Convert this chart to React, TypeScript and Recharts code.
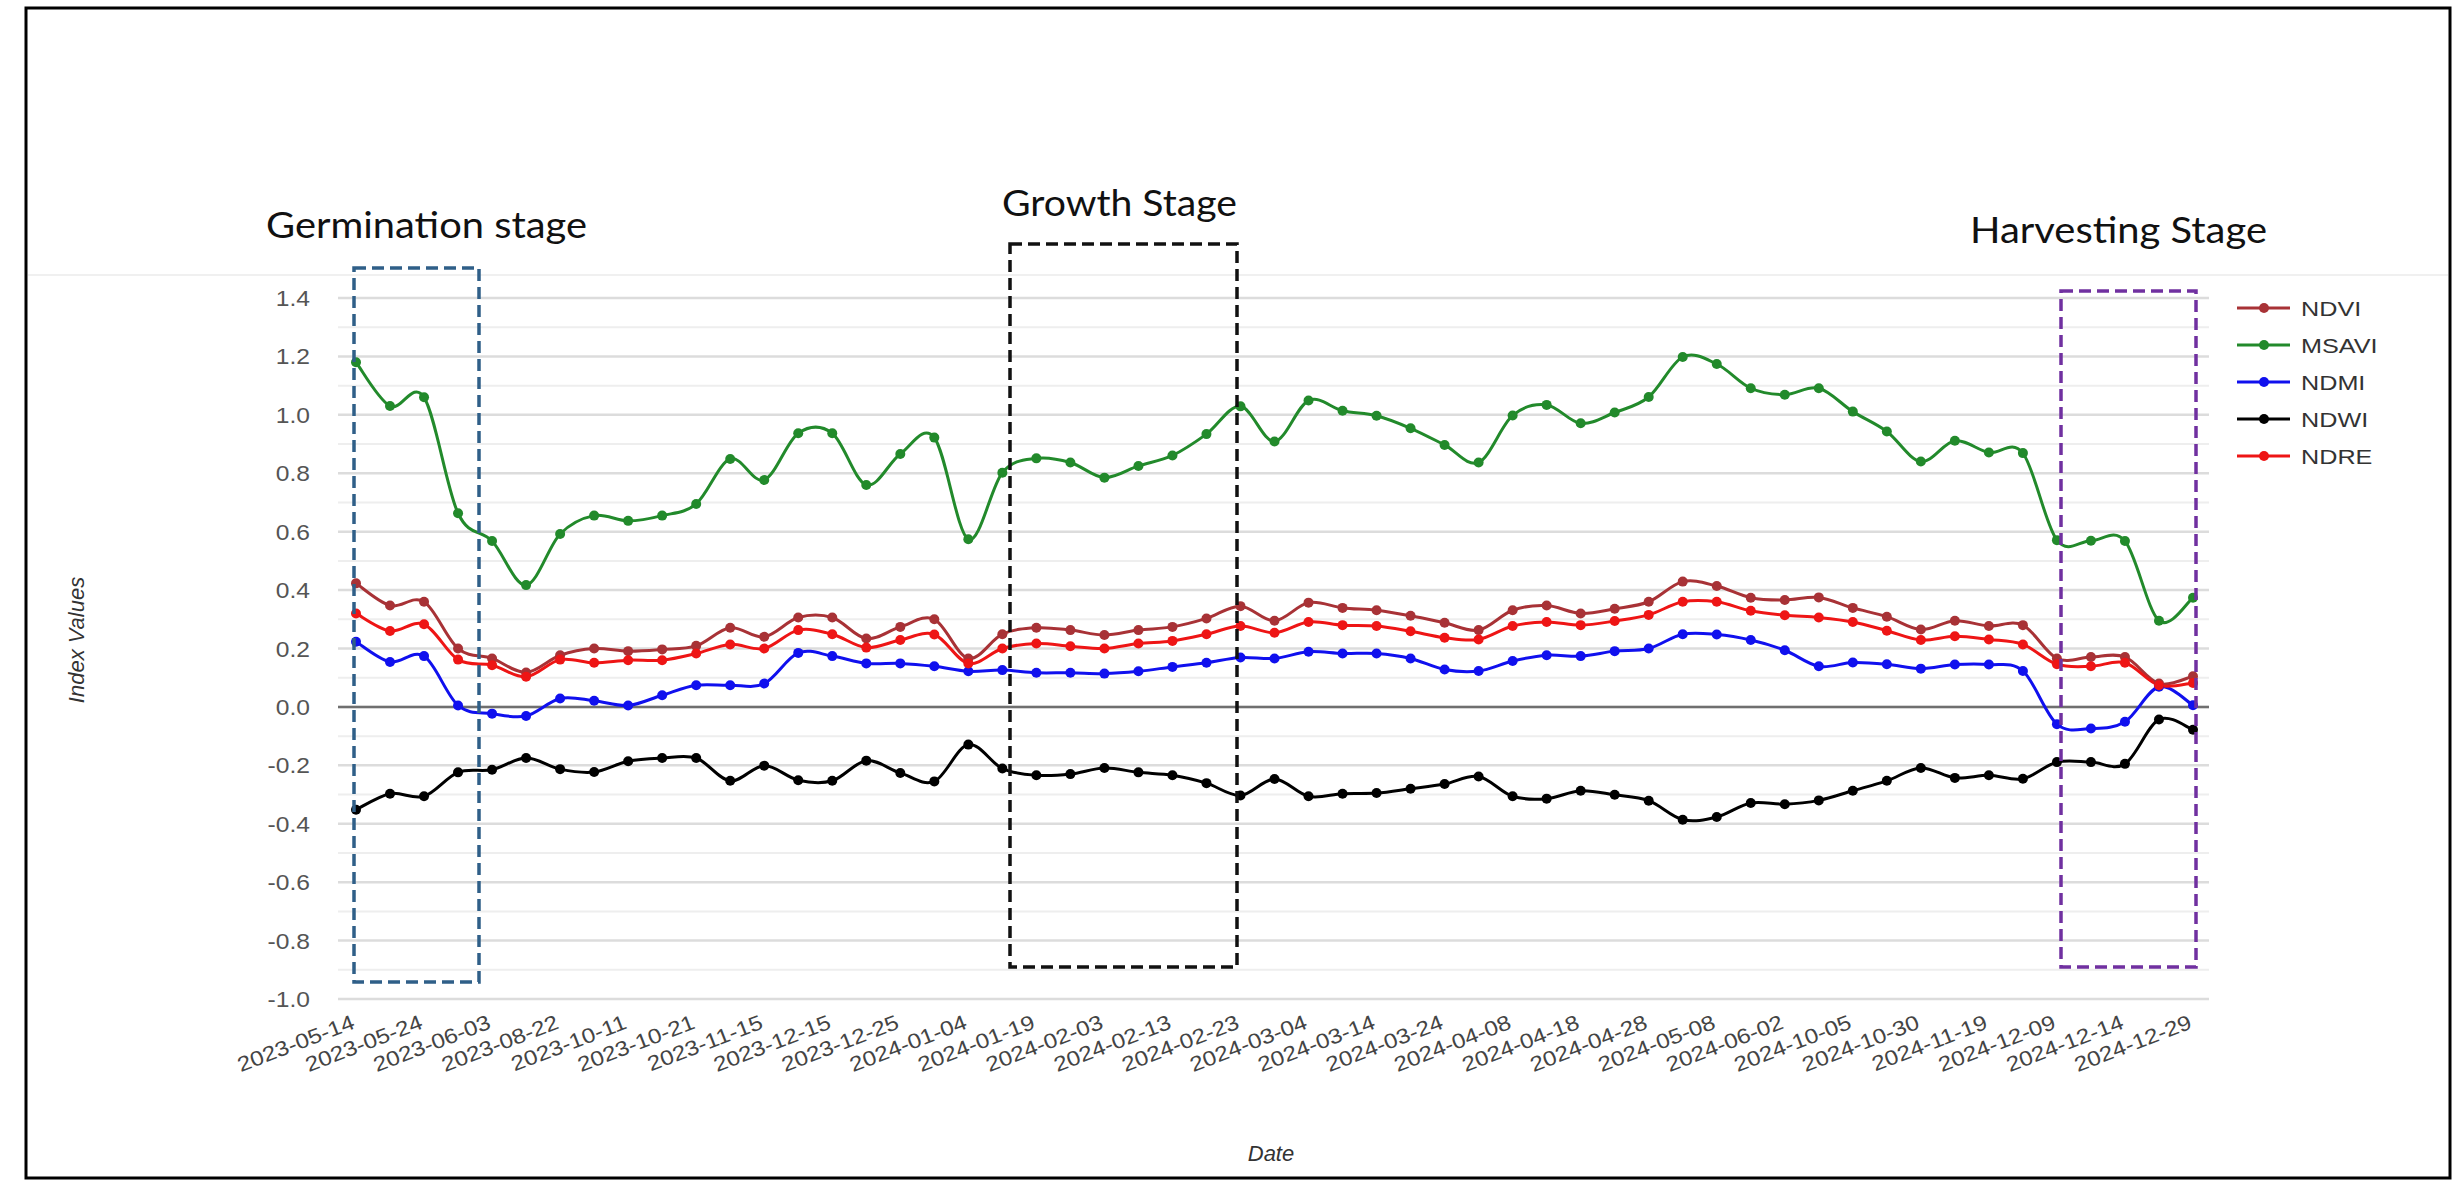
import React from 'react';
import { LineChart, Line, XAxis, YAxis, CartesianGrid, ReferenceLine } from 'recharts';

// ---- data ----
const dates = [
  '2023-05-14', '2023-05-19', '2023-05-24', '2023-05-29', '2023-06-03', '2023-07-13', '2023-08-22', '2023-09-21',
  '2023-10-11', '2023-10-16', '2023-10-21', '2023-11-05', '2023-11-15', '2023-11-25', '2023-12-15', '2023-12-20',
  '2023-12-25', '2023-12-30', '2024-01-04', '2024-01-09', '2024-01-19', '2024-01-29', '2024-02-03', '2024-02-08',
  '2024-02-13', '2024-02-18', '2024-02-23', '2024-02-28', '2024-03-04', '2024-03-09', '2024-03-14', '2024-03-19',
  '2024-03-24', '2024-04-03', '2024-04-08', '2024-04-13', '2024-04-18', '2024-04-23', '2024-04-28', '2024-05-03',
  '2024-05-08', '2024-05-13', '2024-06-02', '2024-09-10', '2024-10-05', '2024-10-15', '2024-10-30', '2024-11-04',
  '2024-11-19', '2024-11-24', '2024-12-09', '2024-12-12', '2024-12-14', '2024-12-19', '2024-12-29',
];

const ndvi = [
  0.423, 0.347, 0.36, 0.2, 0.166, 0.118, 0.177, 0.2, 0.191, 0.197, 0.209, 0.271, 0.24, 0.306, 0.306, 0.234, 0.274, 0.3, 0.166,
  0.249, 0.271, 0.263, 0.246, 0.263, 0.274, 0.303, 0.345, 0.295, 0.357, 0.339, 0.331, 0.312, 0.288, 0.263, 0.331, 0.347, 0.32, 0.336, 0.36,
  0.429, 0.414, 0.374, 0.366, 0.375, 0.339, 0.309, 0.265, 0.295, 0.277, 0.28, 0.166, 0.171, 0.171, 0.08, 0.105,
];

const msavi = [
  1.18, 1.03, 1.06, 0.663, 0.568, 0.417, 0.592, 0.655, 0.637, 0.655, 0.695, 0.849, 0.777, 0.937, 0.937, 0.76, 0.866, 0.922, 0.574,
  0.802, 0.851, 0.837, 0.785, 0.825, 0.861, 0.934, 1.029, 0.909, 1.049, 1.014, 0.997, 0.954, 0.897, 0.837, 0.998, 1.034, 0.971, 1.008, 1.061,
  1.198, 1.174, 1.091, 1.069, 1.091, 1.011, 0.943, 0.84, 0.911, 0.871, 0.869, 0.571, 0.569, 0.568, 0.295, 0.374,
];

const ndmi = [
  0.223, 0.154, 0.174, 0.005, -0.023, -0.031, 0.029, 0.021, 0.005, 0.04, 0.074, 0.074, 0.08, 0.185, 0.174, 0.149, 0.149, 0.139, 0.122,
  0.126, 0.117, 0.117, 0.114, 0.122, 0.137, 0.151, 0.169, 0.166, 0.189, 0.183, 0.183, 0.166, 0.128, 0.123, 0.157, 0.177, 0.174, 0.191, 0.2,
  0.249, 0.248, 0.229, 0.194, 0.139, 0.152, 0.146, 0.131, 0.145, 0.145, 0.123, -0.059, -0.074, -0.051, 0.069, 0.006,
];

const ndwi = [
  -0.352, -0.297, -0.306, -0.224, -0.215, -0.175, -0.213, -0.223, -0.186, -0.175, -0.175, -0.253, -0.201, -0.251, -0.253, -0.184, -0.226, -0.255, -0.129,
  -0.211, -0.234, -0.23, -0.209, -0.224, -0.234, -0.261, -0.303, -0.247, -0.306, -0.297, -0.295, -0.28, -0.264, -0.238, -0.306, -0.314, -0.287, -0.301, -0.321,
  -0.386, -0.377, -0.329, -0.333, -0.32, -0.287, -0.253, -0.209, -0.243, -0.234, -0.246, -0.189, -0.189, -0.195, -0.043, -0.078,
];

const ndre = [
  0.32, 0.26, 0.283, 0.162, 0.143, 0.103, 0.162, 0.151, 0.16, 0.16, 0.183, 0.214, 0.2, 0.263, 0.249, 0.203, 0.229, 0.248, 0.149,
  0.2, 0.217, 0.208, 0.2, 0.217, 0.226, 0.249, 0.277, 0.254, 0.291, 0.28, 0.277, 0.259, 0.237, 0.231, 0.277, 0.291, 0.28, 0.294, 0.315,
  0.36, 0.36, 0.329, 0.314, 0.306, 0.291, 0.261, 0.229, 0.242, 0.231, 0.214, 0.146, 0.139, 0.151, 0.074, 0.082,
];

const yTicks = [-1.0, -0.8, -0.6, -0.4, -0.2, 0.0, 0.2, 0.4, 0.6, 0.8, 1.0, 1.2, 1.4];
const yMinorTicks = [-0.9, -0.7, -0.5, -0.3, -0.1, 0.1, 0.3, 0.5, 0.7, 0.9, 1.1, 1.3];

const seriesNames = ['NDVI', 'MSAVI', 'NDMI', 'NDWI', 'NDRE'];
const seriesValues = [ndvi, msavi, ndmi, ndwi, ndre];
const seriesColors = ['#a83236', '#228a2b', '#1010ee', '#000000', '#ee1515'];

const stageLabels = ['Germination stage', 'Growth Stage', 'Harvesting Stage'];
const stageColors = ['#2f5f88', '#111111', '#7030a0'];

// ---- layout (annotation placement, px) ----
const W = 2456;
const H = 1185;
const stageBoxes = [
  { x: 354, y: 268, w: 125, h: 714 },
  { x: 1010, y: 244, w: 227, h: 723 },
  { x: 2061, y: 291, w: 135, h: 676 },
];
const stageText = [
  { x: 266, y: 238, len: 321 },
  { x: 1002, y: 216, len: 235 },
  { x: 1970, y: 243, len: 297 },
];

const data = dates.map((d, i) => {
  const row: any = { date: d };
  seriesNames.forEach((n, k) => {
    row[n] = seriesValues[k][i];
  });
  return row;
});

// Catmull-Rom style cardinal curve (tension 0)
const cardinalCurve = (context: any) => {
  let pts: number[][] = [];
  return {
    areaStart() {},
    areaEnd() {},
    lineStart() {
      pts = [];
    },
    point(x: number, y: number) {
      pts.push([+x, +y]);
    },
    lineEnd() {
      const n = pts.length;
      if (!n) return;
      context.moveTo(pts[0][0], pts[0][1]);
      for (let i = 0; i < n - 1; i++) {
        const p0 = pts[Math.max(0, i - 1)];
        const p1 = pts[i];
        const p2 = pts[i + 1];
        const p3 = pts[Math.min(n - 1, i + 2)];
        context.bezierCurveTo(
          p1[0] + (p2[0] - p0[0]) / 6,
          p1[1] + (p2[1] - p0[1]) / 6,
          p2[0] - (p3[0] - p1[0]) / 6,
          p2[1] - (p3[1] - p1[1]) / 6,
          p2[0],
          p2[1]
        );
      }
    },
  };
};

const ARIAL = '"Liberation Sans", Arial, sans-serif';

const XTick = (props: any) => {
  const { x, y, payload } = props;
  return (
    <g transform={`translate(${x},${y + 21})`}>
      <text
        transform="rotate(-21) scale(1.15,1)"
        textAnchor="end"
        fontSize={21}
        fill="#444"
        fontFamily={ARIAL}
      >
        {payload.value}
      </text>
    </g>
  );
};

const YTick = (props: any) => {
  const { x, y, payload } = props;
  return (
    <g transform={`translate(${x},${y})`}>
      <text transform="scale(1.12,1)" textAnchor="end" dy={8} fontSize={22} fill="#555" fontFamily={ARIAL}>
        {Number(payload.value).toFixed(1)}
      </text>
    </g>
  );
};

export default function App() {
  return (
    <div style={{ position: 'absolute', left: 0, top: 0, width: W, height: H, background: '#fff' }}>
      <LineChart
        width={W}
        height={H}
        data={data}
        margin={{ top: 298, right: 247, bottom: 126, left: 278 }}
      >
        <CartesianGrid vertical={false} stroke="#dcdcdc" strokeWidth={2.5} />
        {yMinorTicks.map((v) => (
          <ReferenceLine key={v} y={v} stroke="#eeeeee" strokeWidth={2} />
        ))}
        <ReferenceLine y={0} stroke="#6f6f6f" strokeWidth={2.5} />
        <XAxis
          dataKey="date"
          interval={1}
          height={60}
          axisLine={false}
          tickLine={false}
          padding={{ left: 18, right: 16 }}
          tick={<XTick />}
        />
        <YAxis
          width={60}
          domain={[-1, 1.4]}
          ticks={yTicks}
          axisLine={false}
          tickLine={false}
          tickMargin={22}
          tick={<YTick />}
        />
        {seriesNames.map((n, k) => (
          <Line
            key={n}
            dataKey={n}
            type={cardinalCurve as any}
            stroke={seriesColors[k]}
            strokeWidth={3}
            dot={{ r: 5, fill: seriesColors[k], stroke: seriesColors[k], strokeWidth: 0 }}
            activeDot={false}
            isAnimationActive={false}
          />
        ))}
      </LineChart>
      <svg
        width={W}
        height={H}
        style={{ position: 'absolute', left: 0, top: 0, pointerEvents: 'none' }}
      >
        <line x1={28} x2={W - 8} y1={275} y2={275} stroke="#f0f0f0" strokeWidth={2} />
        <rect x={26} y={8} width={2424} height={1170} fill="none" stroke="#000" strokeWidth={3} />
        {stageBoxes.map((b, i) => (
          <rect
            key={i}
            x={b.x}
            y={b.y}
            width={b.w}
            height={b.h}
            fill="none"
            stroke={stageColors[i]}
            strokeWidth={3.5}
            strokeDasharray="12 6"
          />
        ))}
        {stageText.map((t, i) => (
          <text
            key={i}
            x={t.x}
            y={t.y}
            fontSize={37}
            fontFamily="Lato, 'Open Sans', sans-serif"
            fill="#111"
            textLength={t.len}
            lengthAdjust="spacingAndGlyphs"
          >
            {stageLabels[i]}
          </text>
        ))}
        <text
          x={0}
          y={0}
          transform="translate(84,640) rotate(-90)"
          textAnchor="middle"
          fontSize={22}
          fontStyle="italic"
          fill="#333"
          fontFamily={ARIAL}
        >
          Index Values
        </text>
        <text
          x={1271}
          y={1161}
          textAnchor="middle"
          fontSize={22}
          fontStyle="italic"
          fill="#333"
          fontFamily={ARIAL}
        >
          Date
        </text>
        {seriesNames.map((n, k) => {
          const cy = 308 + k * 37;
          return (
            <g key={n}>
              <line x1={2237} x2={2290} y1={cy} y2={cy} stroke={seriesColors[k]} strokeWidth={3} />
              <circle cx={2264} cy={cy} r={5} fill={seriesColors[k]} />
              <text
                x={0}
                y={0}
                transform={`translate(2301,${cy + 8}) scale(1.2,1)`}
                fontSize={21}
                fill="#333"
                fontFamily={ARIAL}
              >
                {n}
              </text>
            </g>
          );
        })}
      </svg>
    </div>
  );
}
